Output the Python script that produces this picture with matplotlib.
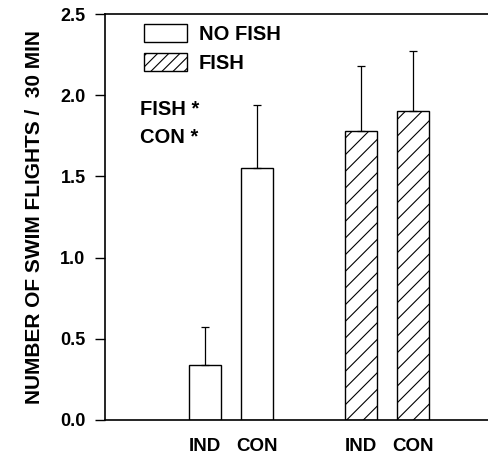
import matplotlib
matplotlib.use("Agg")
import matplotlib.pyplot as plt
from matplotlib.patches import Patch

plt.rcParams['font.family'] = ['Liberation Sans', 'DejaVu Sans']
plt.rcParams['font.weight'] = 'bold'
plt.rcParams['hatch.linewidth'] = 0.8

# values
groups = ["NO FISH", "FISH"]
tick_labels = ["IND", "CON", "IND", "CON"]
no_fish_mean = [0.34, 1.55]
no_fish_err = [0.23, 0.39]
fish_mean = [1.78, 1.90]
fish_err = [0.40, 0.37]
stats_text = ["FISH *", "CON *"]

pos_no_fish = [0, 1]
pos_fish = [3, 4]
width = 0.62

fig = plt.figure(figsize=(4.88, 4.58), dpi=100)
ax = fig.add_axes([105 / 488, 38 / 458, 400 / 488, 406 / 458])

b1 = ax.bar(pos_no_fish, no_fish_mean, width, color='white', edgecolor='black', linewidth=1.0)
b2 = ax.bar(pos_fish, fish_mean, width, color='white', edgecolor='black', linewidth=1.0, hatch='//')
ax.errorbar(pos_no_fish, no_fish_mean, yerr=[[0, 0], no_fish_err], fmt='none',
            ecolor='black', elinewidth=0.9, capsize=3, capthick=0.9)
ax.errorbar(pos_fish, fish_mean, yerr=[[0, 0], fish_err], fmt='none',
            ecolor='black', elinewidth=0.9, capsize=3, capthick=0.9)

ax.set_xlim(-1.923, -1.923 + 400 / 52)
ax.set_ylim(0, 2.5)
ax.set_yticks([0, 0.5, 1.0, 1.5, 2.0, 2.5])
ax.set_yticklabels(['0.0', '0.5', '1.0', '1.5', '2.0', '2.5'], fontsize=13, fontweight='bold')
ax.set_xticks(pos_no_fish + pos_fish)
ax.set_xticklabels(tick_labels, fontsize=13.5, fontweight='bold')
ax.tick_params(axis='x', length=0, pad=13)
ax.tick_params(axis='y', direction='out', length=7, width=1.0, pad=7)
for s in ax.spines.values():
    s.set_linewidth(1.2)
ax.spines['right'].set_visible(False)

ax.set_ylabel("NUMBER OF SWIM FLIGHTS /  30 MIN", fontsize=15, fontweight='bold', labelpad=12)

handles = [Patch(facecolor='white', edgecolor='black', linewidth=1.0),
           Patch(facecolor='white', edgecolor='black', linewidth=1.0, hatch='///')]
ax.legend(handles, groups, loc='upper left', bbox_to_anchor=(0.088, 0.985), frameon=False,
          fontsize=14.5, handlelength=2.1, handleheight=1.0, handletextpad=0.6,
          labelspacing=0.45, borderpad=0.2, borderaxespad=0)

ax.text(0.088, 0.764, stats_text[0], transform=ax.transAxes, fontsize=14.5,
        fontweight='bold', va='center', ha='left')
ax.text(0.088, 0.695, stats_text[1], transform=ax.transAxes, fontsize=14.5,
        fontweight='bold', va='center', ha='left')

fig.savefig("out.png", dpi=100)
